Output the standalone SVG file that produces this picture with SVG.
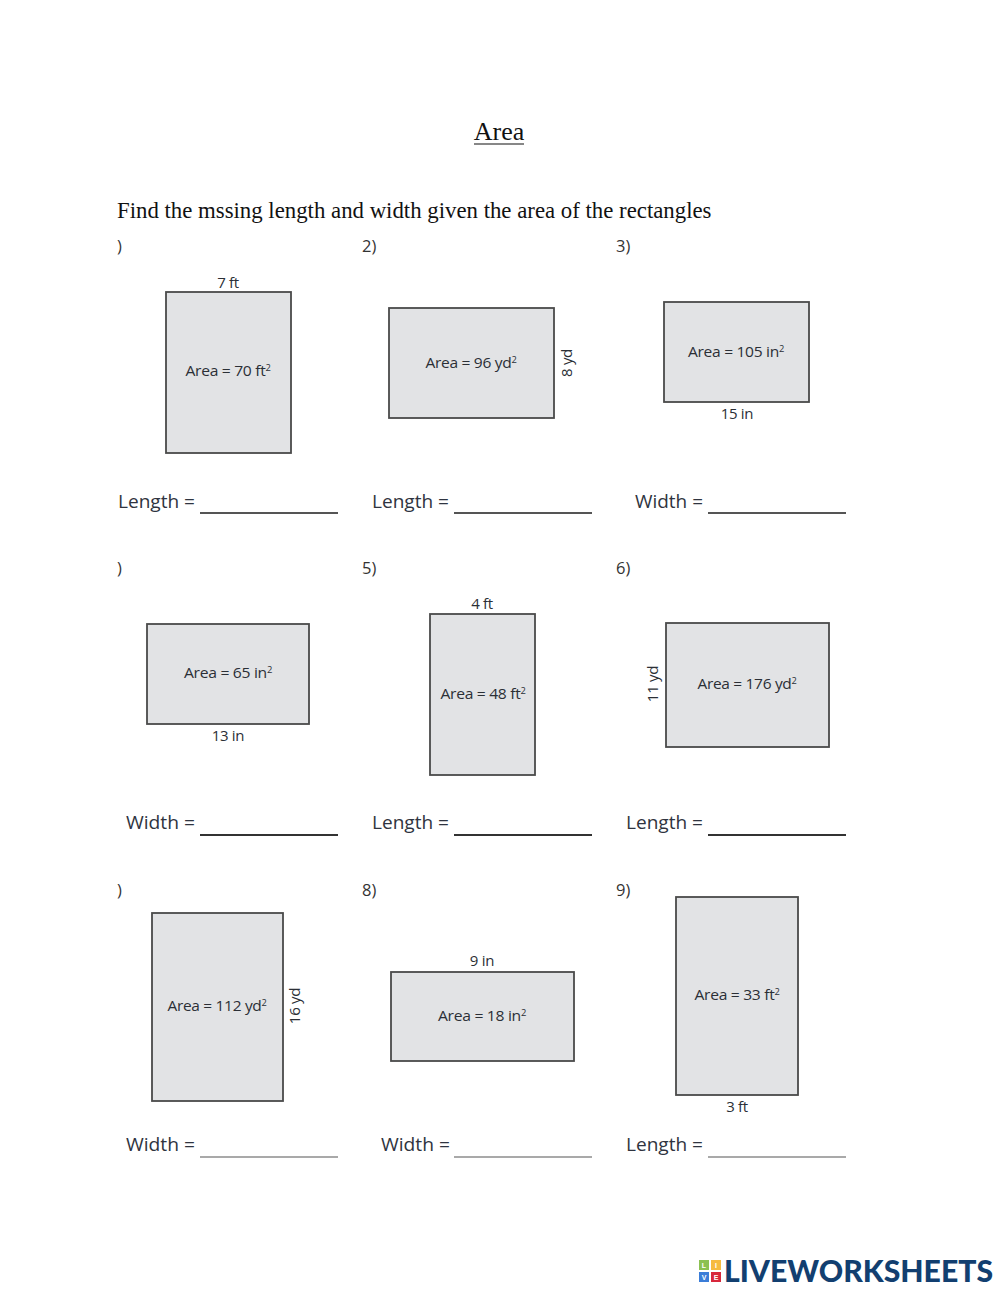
<svg xmlns="http://www.w3.org/2000/svg" width="1000" height="1291" viewBox="0 0 1000 1291">
<style>
.t{font-family:"Liberation Serif",serif;fill:#111}
.s{font-family:"Open Sans","Liberation Sans",sans-serif;fill:#2b2f36;font-size:15px;letter-spacing:-.3px}
.m{text-anchor:middle}
.l{font-family:"Open Sans","Liberation Sans",sans-serif;fill:#2f3440;font-size:18px}
.n{font-family:"Open Sans","Liberation Sans",sans-serif;fill:#333;font-size:16.5px}
.r{fill:#e2e3e5;stroke:#4a4a4a;stroke-width:1.8}
.u{stroke:#555;stroke-width:1.8}
.sup{font-size:9px}
.b{font-family:"Liberation Sans",sans-serif;font-size:7px;font-weight:700;fill:#fff;text-anchor:middle}
</style>
<rect width="1000" height="1291" fill="#fff"/>
<g id="title"><text class="t m" x="499" y="140" font-size="26">Area</text><line x1="474" y1="144" x2="524" y2="144" stroke="#111" stroke-width="1.2"/></g>
<text class="t" x="117" y="218" font-size="22.8">Find the mssing length and width given the area of the rectangles</text>
<g id="p1"><text class="n" x="117" y="252">)</text><rect class="r" x="166" y="292" width="125" height="161"/><text class="s m" x="228" y="288">7 ft</text><text class="s m" x="228" y="376" textLength="85" lengthAdjust="spacingAndGlyphs">Area = 70 ft<tspan class="sup" dy="-5">2</tspan></text><text class="l" x="118" y="508" textLength="77" lengthAdjust="spacingAndGlyphs">Length =</text><line class="u" x1="200" y1="513" x2="338" y2="513"/></g>
<g id="p2"><text class="n" x="362" y="252">2)</text><rect class="r" x="389" y="308" width="165" height="110"/><text class="s m" x="471" y="368" textLength="91" lengthAdjust="spacingAndGlyphs">Area = 96 yd<tspan class="sup" dy="-5">2</tspan></text><text class="s m" transform="translate(572 363) rotate(-90)">8 yd</text><text class="l" x="372" y="508" textLength="77" lengthAdjust="spacingAndGlyphs">Length =</text><line class="u" x1="454" y1="513" x2="592" y2="513"/></g>
<g id="p3"><text class="n" x="616" y="252">3)</text><rect class="r" x="664" y="302" width="145" height="100"/><text class="s m" x="736" y="357" textLength="96" lengthAdjust="spacingAndGlyphs">Area = 105 in<tspan class="sup" dy="-5">2</tspan></text><text class="s m" x="737" y="419">15 in</text><text class="l" x="635" y="508" textLength="68" lengthAdjust="spacingAndGlyphs">Width =</text><line class="u" x1="708" y1="513" x2="846" y2="513"/></g>
<g id="p4"><text class="n" x="117" y="574">)</text><rect class="r" x="147" y="624" width="162" height="100"/><text class="s m" x="228" y="678" textLength="88" lengthAdjust="spacingAndGlyphs">Area = 65 in<tspan class="sup" dy="-5">2</tspan></text><text class="s m" x="228" y="741">13 in</text><text class="l" x="126" y="829" textLength="69" lengthAdjust="spacingAndGlyphs">Width =</text><line class="u" x1="200" y1="835" x2="338" y2="835" style="stroke-width:2.2;stroke:#333"/></g>
<g id="p5"><text class="n" x="362" y="574">5)</text><rect class="r" x="430" y="614" width="105" height="161"/><text class="s m" x="483" y="699" textLength="85" lengthAdjust="spacingAndGlyphs">Area = 48 ft<tspan class="sup" dy="-5">2</tspan></text><text class="s m" x="482" y="609">4 ft</text><text class="l" x="372" y="829" textLength="77" lengthAdjust="spacingAndGlyphs">Length =</text><line class="u" x1="454" y1="835" x2="592" y2="835" style="stroke-width:2.2;stroke:#333"/></g>
<g id="p6"><text class="n" x="616" y="574">6)</text><rect class="r" x="666" y="623" width="163" height="124"/><text class="s m" x="747" y="689" textLength="99" lengthAdjust="spacingAndGlyphs">Area = 176 yd<tspan class="sup" dy="-5">2</tspan></text><text class="s m" transform="translate(658 684) rotate(-90)">11 yd</text><text class="l" x="626" y="829" textLength="77" lengthAdjust="spacingAndGlyphs">Length =</text><line class="u" x1="708" y1="835" x2="846" y2="835" style="stroke-width:2.2;stroke:#333"/></g>
<g id="p7"><text class="n" x="117" y="896">)</text><rect class="r" x="152" y="913" width="131" height="188"/><text class="s m" x="217" y="1011" textLength="99" lengthAdjust="spacingAndGlyphs">Area = 112 yd<tspan class="sup" dy="-5">2</tspan></text><text class="s m" transform="translate(300 1006) rotate(-90)">16 yd</text><text class="l" x="126" y="1151" textLength="69" lengthAdjust="spacingAndGlyphs">Width =</text><line class="u" x1="200" y1="1157" x2="338" y2="1157" style="stroke-width:1.2"/></g>
<g id="p8"><text class="n" x="362" y="896">8)</text><rect class="r" x="391" y="972" width="183" height="89"/><text class="s m" x="482" y="1021" textLength="88" lengthAdjust="spacingAndGlyphs">Area = 18 in<tspan class="sup" dy="-5">2</tspan></text><text class="s m" x="482" y="966">9 in</text><text class="l" x="381" y="1151" textLength="69" lengthAdjust="spacingAndGlyphs">Width =</text><line class="u" x1="454" y1="1157" x2="592" y2="1157" style="stroke-width:1.2"/></g>
<g id="p9"><text class="n" x="616" y="896">9)</text><rect class="r" x="676" y="897" width="122" height="198"/><text class="s m" x="737" y="1000" textLength="85" lengthAdjust="spacingAndGlyphs">Area = 33 ft<tspan class="sup" dy="-5">2</tspan></text><text class="s m" x="737" y="1112">3 ft</text><text class="l" x="626" y="1151" textLength="77" lengthAdjust="spacingAndGlyphs">Length =</text><line class="u" x1="708" y1="1157" x2="846" y2="1157" style="stroke-width:1.2"/></g>
<g id="logo">
<rect x="699" y="1260" width="10" height="10" fill="#8cc152"/><rect x="711" y="1260" width="10" height="10" fill="#f6bb42"/>
<rect x="699" y="1272" width="10" height="10" fill="#3b7dd8"/><rect x="711" y="1272" width="10" height="10" fill="#d8283c"/>
<text class="b" x="704" y="1268">L</text><text class="b" x="716" y="1268">I</text><text class="b" x="704" y="1280">V</text><text class="b" x="716" y="1280">E</text>
<text x="724" y="1282" font-family="Lato,Liberation Sans,sans-serif" font-weight="900" font-size="30" fill="#123f70" textLength="269" lengthAdjust="spacingAndGlyphs">LIVEWORKSHEETS</text>
</g>
</svg>
